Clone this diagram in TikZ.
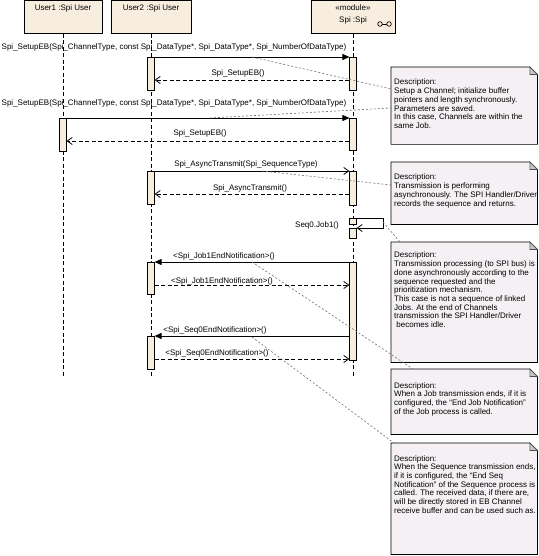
\documentclass[tikz,border=0pt]{standalone}
\usepackage{fontspec}
\setmainfont{Liberation Sans}
\usetikzlibrary{arrows.meta,calc}
\definecolor{headfill}{HTML}{F8EEDF}
\definecolor{notefill}{HTML}{F4F0F3}
\definecolor{foldfill}{HTML}{C4C4C4}
\definecolor{linkgray}{HTML}{707070}
\tikzset{
  head/.style={draw=black, fill=headfill, line width=0.7pt, minimum height=33pt, inner sep=0pt, anchor=north},
  headtxt/.style={anchor=base, inner sep=0pt},
  life/.style={black, line width=0.7pt, dash pattern=on 4pt off 2.5pt},
  act/.style={draw=black, fill=headfill, line width=0.7pt, minimum width=6.5pt, inner sep=0pt, anchor=north},
  call/.style={black, line width=0.8pt, -{Triangle[length=7pt,width=6pt]}},
  acall/.style={black, line width=0.8pt, -{Straight Barb[length=5pt,width=7pt]}},
  ret/.style={black, line width=0.8pt, dash pattern=on 4pt off 2.5pt, -{Straight Barb[length=5pt,width=7pt]}},
  lbl/.style={anchor=base, inner sep=0pt},
  notebox/.style={draw=none, fill=none, inner sep=0pt, anchor=north west},
  noteline/.style={draw=black, fill=notefill, line width=0.7pt},
  notetxt/.style={anchor=north west, inner sep=0pt, align=left, font=\fontsize{8}{8.7}\selectfont},
  link/.style={linkgray, line width=0.6pt, dash pattern=on 2pt off 2pt},
}
\newcommand{\drawnote}[1]{%
  \draw[noteline] (#1.south west) -- (#1.north west) -- ([xshift=-7.5pt]#1.north east)
    -- ([yshift=-7.5pt]#1.north east) -- (#1.south east) -- cycle;
  \draw[draw=black!70, fill=foldfill, line width=0.6pt] ([xshift=-7.5pt]#1.north east)
    -- ([xshift=-7.5pt,yshift=-7.5pt]#1.north east) -- ([yshift=-7.5pt]#1.north east) -- cycle;}
\begin{document}
\begin{tikzpicture}[x=1pt, y=-1pt, font=\fontsize{8}{9}\selectfont]
\useasboundingbox[fill=white] (0,0) rectangle (538,556);

% heads
\node[head, minimum width=78pt] (u1) at (63,0) {};
\node[head, minimum width=80pt] (u2) at (151,0) {};
\node[head, minimum width=84pt] (spi) at (353,0) {};
\node[headtxt] (u1t) at (63,11) {User1 :Spi User};
\node[headtxt] (u2t) at (151,11) {User2 :Spi User};
\node[headtxt] (spit1) at (353,11) {«module»};
\node[headtxt] (spit2) at (353,23) {Spi :Spi};
\coordinate (ico1) at (380,24);
\coordinate (ico2) at (389,24);
\draw[line width=0.7pt] (ico1) -- (ico2);
\draw[line width=0.7pt, fill=headfill] (ico1) circle (2.3pt) (ico2) circle (2.3pt);

% lifelines
\coordinate (u1e) at (63,378);
\coordinate (u2e) at (151,378);
\coordinate (spie) at (353,378);
\draw[life] (u1.south) -- (u1e);
\draw[life] (u2.south) -- (u2e);
\draw[life] (spi.south) -- (spie);

% activations
\node[act, minimum height=33pt] (u2a1) at (151,57) {};
\node[act, minimum height=33pt] (sa1) at (353,57) {};
\node[act, minimum height=33pt] (u1a1) at (63,118) {};
\node[act, minimum height=32pt] (sa2) at (353,118) {};
\node[act, minimum height=33pt] (u2a2) at (151,171) {};
\node[act, minimum height=34pt] (sa3) at (353,171) {};
\node[act, minimum height=6pt] (ss1) at (353,218) {};
\node[act, minimum height=10pt] (ss2) at (353,228) {};
\node[act, minimum height=98pt] (sa4) at (353,262) {};
\node[act, minimum height=32pt] (u2a3) at (151,262) {};
\node[act, minimum height=33pt] (u2a4) at (151,336) {};

% messages
\draw[call] (u2a1.north east) -- (sa1.north west);
\node[lbl] (m1l) at (174,50) {Spi\_SetupEB(Spi\_ChannelType, const Spi\_DataType*, Spi\_DataType*, Spi\_NumberOfDataType)};
\draw[ret] (sa1.west |- 0,80) -- (u2a1.east |- 0,80);
\node[lbl] (r1l) at (238,76) {Spi\_SetupEB()};

\draw[call] (u1a1.north east) -- (sa2.north west);
\node[lbl] (m2l) at (174,106) {Spi\_SetupEB(Spi\_ChannelType, const Spi\_DataType*, Spi\_DataType*, Spi\_NumberOfDataType)};
\draw[ret] (sa2.west |- 0,141) -- (u1a1.east |- 0,141);
\node[lbl] (r2l) at (200,136) {Spi\_SetupEB()};

\draw[acall] (u2a2.north east) -- (sa3.north west);
\node[lbl] (m3l) at (246,166) {Spi\_AsyncTransmit(Spi\_SequenceType)};
\draw[ret] (sa3.west |- 0,194) -- (u2a2.east |- 0,194);
\node[lbl] (r3l) at (250,190) {Spi\_AsyncTransmit()};

\coordinate (sm1) at (383,218);
\coordinate (sm2) at (383,228);
\draw[acall] (ss1.north east) -- (sm1) -- (sm2) -- (ss2.north east);
\node[lbl] (sml) at (317,227) {Seq0.Job1()};

\draw[call] (sa4.north west) -- (u2a3.north east);
\node[lbl] (m4l) at (224,258) {<Spi\_Job1EndNotification>()};
\draw[ret] (u2a3.east |- 0,285) -- (sa4.west |- 0,285);
\node[lbl] (r4l) at (222,283) {<Spi\_Job1EndNotification>()};

\draw[call] (sa4.west |- 0,336) -- (u2a4.north east);
\node[lbl] (m5l) at (215,332) {<Spi\_Seq0EndNotification>()};
\draw[ret] (u2a4.east |- 0,359) -- (sa4.west |- 0,359);
\node[lbl] (r5l) at (217,355) {<Spi\_Seq0EndNotification>()};

% notes
\node[notebox, minimum width=146pt, minimum height=77pt] (n1) at (391,67) {};
\node[notebox, minimum width=146pt, minimum height=62pt] (n2) at (391,162) {};
\node[notebox, minimum width=146pt, minimum height=120pt] (n3) at (391,242) {};
\node[notebox, minimum width=146pt, minimum height=65pt] (n4) at (391,369) {};
\node[notebox, minimum width=146pt, minimum height=111pt] (n5) at (391,443) {};
\drawnote{n1}\drawnote{n2}\drawnote{n3}\drawnote{n4}\drawnote{n5}

\node[notetxt] (n1t) at (394,79) {Description:\\Setup a Channel; initialize buffer\\pointers and length synchronously.\\Parameters are saved.\\In this case, Channels are within the\\same Job.};
\node[notetxt] (n2t) at (394,174) {Description:\\Transmission is performing\\asynchronously. The SPI Handler/Driver\\records the sequence and returns.};
\node[notetxt] (n3t) at (394,252) {Description:\\Transmission processing (to SPI bus) is\\done asynchronously according to the\\sequence requested and the\\prioritization mechanism.\\This case is not a sequence of linked\\Jobs. At the end of Channels\\transmission the SPI Handler/Driver\\\ becomes idle.};
\node[notetxt] (n4t) at (394,382) {Description:\\When a Job transmission ends, if it is\\configured, the “End Job Notification”\\of the Job process is called.};
\node[notetxt] (n5t) at (394,455) {Description:\\When the Sequence transmission ends,\\if it is configured, the “End Seq\\Notification” of the Sequence process is\\called. The received data, if there are,\\will be directly stored in EB Channel\\receive buffer and can be used such as.};

% note links
\coordinate (l1a) at (252,57);
\coordinate (l1b) at (210,118);
\coordinate (l2) at (262,171);
\coordinate (l4) at (252,262);
\coordinate (l5) at (252,337);
\draw[link] (l1a) -- (n1.west |- 0,89);
\draw[link] (l1b) -- (n1.west |- 0,108);
\draw[link] (l2) -- (n2.west |- 0,185);
\draw[link] ([yshift=-4pt]sm1) -- ([xshift=9pt]n3.north west);
\draw[link] (l4) -- ([xshift=22pt]n4.north west);
\draw[link] (l5) -- ([xshift=3pt]n5.north west);
\end{tikzpicture}
\end{document}
